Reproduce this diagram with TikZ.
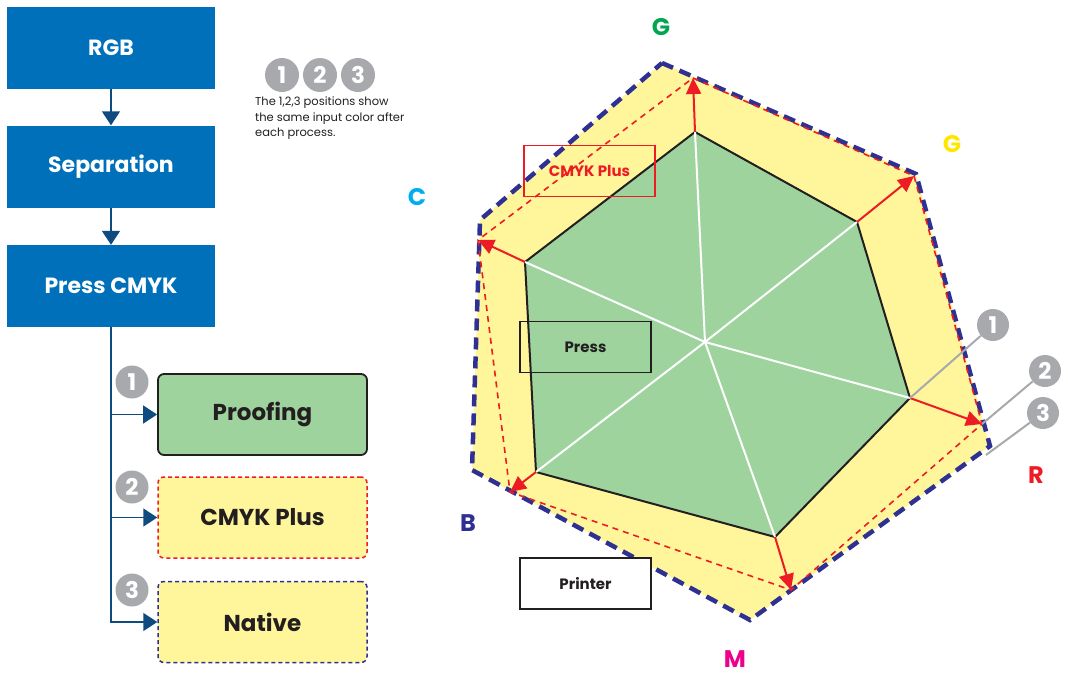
\documentclass[tikz,border=0pt]{standalone}
\usepackage{fontspec}
\setmainfont{Poppins}
\usetikzlibrary{arrows.meta}

\definecolor{flowblue}{RGB}{0,112,186}
\definecolor{flownavy}{RGB}{14,76,128}
\definecolor{proofgreen}{RGB}{158,211,158}
\definecolor{plusyellow}{RGB}{255,245,155}
\definecolor{plusred}{RGB}{237,28,36}
\definecolor{nativeblue}{RGB}{46,49,146}
\definecolor{markgray}{RGB}{167,169,172}
\definecolor{inkblack}{RGB}{35,31,32}
\definecolor{labgreen}{RGB}{0,166,81}
\definecolor{labyellow}{RGB}{255,230,0}
\definecolor{labcyan}{RGB}{0,174,239}
\definecolor{labmagenta}{RGB}{236,0,140}

\begin{document}
\begin{tikzpicture}[x=1pt, y=-1pt,
    flowbox/.style={fill=flowblue, text=white, inner sep=0pt, minimum width=208pt, minimum height=82pt,
        font=\fontsize{22}{26}\selectfont\bfseries},
    flowarrow/.style={flownavy, line width=1.6pt, -{Triangle[length=14pt, width=18pt]}},
    resultbox/.style={rounded corners=6pt, inner sep=0pt, minimum width=209pt, minimum height=81pt,
        text=inkblack, font=\fontsize{23}{27}\selectfont\bfseries},
    numcirc/.style={circle, fill=markgray, text=white, inner sep=0pt, minimum size=33pt,
        font=\fontsize{23}{23}\selectfont\bfseries},
    hexlabel/.style={inner sep=0pt, font=\fontsize{24}{24}\selectfont\bfseries},
    gamutbox/.style={draw, line width=1.6pt, inner sep=0pt, minimum width=131pt, minimum height=51pt,
        font=\fontsize{15}{17}\selectfont\bfseries},
    callout/.style={markgray, line width=2pt},
    plusarrow/.style={plusred, line width=2pt, -{Triangle[length=16pt, width=15pt]}}
]
    \useasboundingbox (0,0) rectangle (1068,675);

    % flow on the left
    \node[flowbox] (rgb) at (111,48) {RGB};
    \node[flowbox] (sep) at (111,166.5) {Separation};
    \node[flowbox] (presscmyk) at (111,286) {Press CMYK};

    \node[resultbox, draw=inkblack, line width=1.8pt, fill=proofgreen] (proofing) at (262.5,414.5) {Proofing};
    \node[resultbox, draw=plusred, line width=1.5pt, dash pattern=on 4pt off 3pt, fill=plusyellow] (cmykplus) at (262.5,517.5) {CMYK Plus};
    \node[resultbox, draw=nativeblue, line width=1.5pt, dash pattern=on 4pt off 3pt, fill=plusyellow] (native) at (262.5,622) {Native};

    \draw[flowarrow] (rgb) -- (sep);
    \draw[flowarrow] (sep) -- (presscmyk);
    \draw[flowarrow] (presscmyk.south) |- (proofing.west);
    \draw[flowarrow] (presscmyk.south) |- (cmykplus.west);
    \draw[flowarrow] (presscmyk.south) |- (native.west);

    \node[numcirc] (step1) at (132,382) {1};
    \node[numcirc] (step2) at (132,487) {2};
    \node[numcirc] (step3) at (132,590) {3};

    % legend
    \node[numcirc, minimum size=34pt] (key1) at (282,75) {1};
    \node[numcirc, minimum size=34pt] (key2) at (320,75) {2};
    \node[numcirc, minimum size=34pt] (key3) at (358,75) {3};
    \node[anchor=north west, align=left, inner sep=0pt, text=inkblack, font=\fontsize{11.5}{15.5}\selectfont] (note) at (255,97)
        {The 1,2,3 positions show\\the same input color after\\each process.};

    % gamut hexagons
    \coordinate (b1) at (662,63);
    \coordinate (b2) at (916,174);
    \coordinate (b3) at (990,446);
    \coordinate (b4) at (750,620);
    \coordinate (b5) at (472,470);
    \coordinate (b6) at (480,220);

    \coordinate (r1) at (693,78);
    \coordinate (r2) at (914,176);
    \coordinate (r3) at (982,424);
    \coordinate (r4) at (791,590);
    \coordinate (r5) at (510,492);
    \coordinate (r6) at (478,240);

    \coordinate (g1) at (695,132);
    \coordinate (g2) at (857,222);
    \coordinate (g3) at (910,398);
    \coordinate (g4) at (775,537);
    \coordinate (g5) at (536,472);
    \coordinate (g6) at (525,262);
    \coordinate (hub) at (705,342);

    \fill[plusyellow] (b1) -- (b2) -- (b3) -- (b4) -- (b5) -- (b6) -- cycle;
    \draw[nativeblue, line width=4.5pt, dash pattern=on 12pt off 7pt] (b1) -- (b2) -- (b3) -- (b4) -- (b5) -- (b6) -- cycle;
    \draw[plusred, line width=1.6pt, dash pattern=on 6pt off 5pt] (r1) -- (r2) -- (r3) -- (r4) -- (r5) -- (r6) -- cycle;
    \draw[inkblack, line width=2pt, fill=proofgreen] (g1) -- (g2) -- (g3) -- (g4) -- (g5) -- (g6) -- cycle;
    \foreach \v in {1,...,6}
        \draw[white, line width=2pt] (hub) -- (g\v);
    \foreach \v in {1,...,6}
        \draw[plusarrow] (g\v) -- (r\v);

    \node[gamutbox, draw=plusred, text=plusred] (pluslabel) at (589.5,171) {CMYK Plus};
    \node[gamutbox, draw=inkblack, text=inkblack] (presslabel) at (585.5,347) {Press};
    \node[gamutbox, draw=inkblack, fill=white, text=inkblack] (printerlabel) at (585.5,583.5) {Printer};

    \node[hexlabel, text=labgreen] (labG) at (661,27) {G};
    \node[hexlabel, text=labyellow] (labY) at (952,144) {G};
    \node[hexlabel, text=labcyan] (labC) at (417,197) {C};
    \node[hexlabel, text=plusred] (labR) at (1036,475) {R};
    \node[hexlabel, text=nativeblue] (labB) at (468,523) {B};
    \node[hexlabel, text=labmagenta] (labM) at (735,659) {M};

    % callouts
    \coordinate (tip3) at (986,455);
    \node[numcirc, minimum size=32pt] (call1) at (993,325) {1};
    \node[numcirc, minimum size=32pt] (call2) at (1045,371) {2};
    \node[numcirc, minimum size=32pt] (call3) at (1043,413) {3};
    \draw[callout] (call1) -- (g3);
    \draw[callout] (call2) -- (r3);
    \draw[callout] (call3) -- (tip3);
\end{tikzpicture}
\end{document}
